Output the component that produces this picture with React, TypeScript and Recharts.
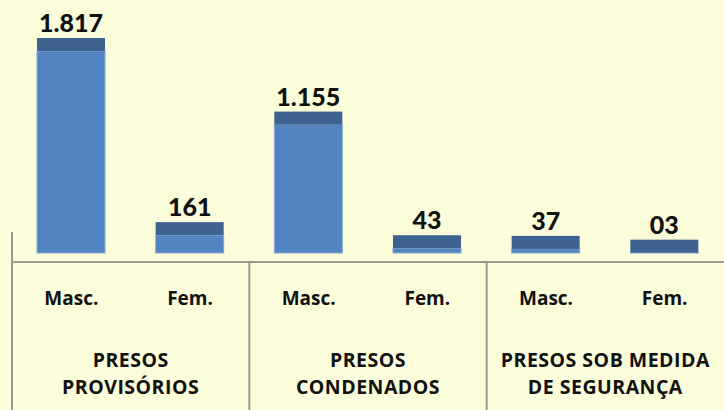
import { Bar, BarChart, LabelList, XAxis, YAxis } from "recharts";

const categories = ["Masc.", "Fem.", "Masc.", "Fem.", "Masc.", "Fem."];
const groupLines = [
  ["PRESOS", "PROVISÓRIOS"],
  ["PRESOS", "CONDENADOS"],
  ["PRESOS SOB MEDIDA", "DE SEGURANÇA"],
];
const values = [1817, 161, 1155, 43, 37, 3];
const valueLabels = ["1.817", "161", "1.155", "43", "37", "03"];

const data = categories.map((c, i) => ({
  key: `${c}-${i}`,
  value: values[i],
  label: valueLabels[i],
}));

const W = 724;
const H = 410;
const LEFT = 12;
const SLOT = (W - LEFT) / categories.length;
const BAND = 13;
const NUM_FONT = "Lato, 'Open Sans', sans-serif";
const AXIS_FONT = "'Open Sans', Lato, sans-serif";
const GRID = "#9a9a94";

function Tick(props: any) {
  const { x, y, index } = props;
  const g = Math.floor(index / 2);
  const groupText = {
    textAnchor: "middle" as const,
    fontFamily: AXIS_FONT,
    fontWeight: 700,
    fontSize: 19.5,
    letterSpacing: 0.5,
    fill: "#111",
  };
  return (
    <g>
      <text x={x} y={y + 43} textAnchor="middle" fontFamily={AXIS_FONT} fontWeight={700} fontSize={19} fill="#111">
        {categories[index]}
      </text>
      {index % 2 === 0 && (
        <>
          <line
            x1={x - SLOT / 2}
            x2={x - SLOT / 2}
            y1={index === 0 ? y - 30 : y}
            y2={y + 150}
            stroke={GRID}
            strokeWidth={2}
          />
          <text x={x + SLOT / 2} y={y + 105} {...groupText}>
            {groupLines[g][0]}
          </text>
          <text x={x + SLOT / 2} y={y + 132} {...groupText}>
            {groupLines[g][1]}
          </text>
        </>
      )}
    </g>
  );
}

function Column(props: any) {
  const { x, y, width, height } = props;
  return (
    <g>
      <rect x={x} y={y} width={width} height={Math.max(height, 0)} fill="#5284c1" stroke="#86a9d6" strokeWidth={1} />
      <rect x={x} y={y - BAND} width={width} height={BAND} fill="#3e6391" />
    </g>
  );
}

function ValueLabel(props: any) {
  const { x, y, width, index } = props;
  return (
    <text
      x={x + width / 2}
      y={y - BAND - 6}
      textAnchor="middle"
      fontFamily={NUM_FONT}
      fontWeight={900}
      fontSize={25}
      fill="#111"
    >
      {valueLabels[index]}
    </text>
  );
}

export default function App() {
  return (
    <div style={{ position: "absolute", left: 0, top: 0, width: W, height: H, background: "#fafcda" }}>
      <BarChart width={W} height={H} data={data} margin={{ top: 51, right: 0, left: LEFT, bottom: 0 }}>
        <YAxis hide type="number" domain={[-81, 1817]} />
        <XAxis
          dataKey="key"
          height={148}
          interval={0}
          tickSize={0}
          tickMargin={0}
          tickLine={false}
          axisLine={{ stroke: GRID, strokeWidth: 2 }}
          tick={(p: any) => <Tick {...p} />}
        />
        <Bar dataKey="value" barSize={68} shape={(p: any) => <Column {...p} />} isAnimationActive={false}>
          <LabelList dataKey="label" content={(p: any) => <ValueLabel {...p} />} />
        </Bar>
      </BarChart>
    </div>
  );
}
